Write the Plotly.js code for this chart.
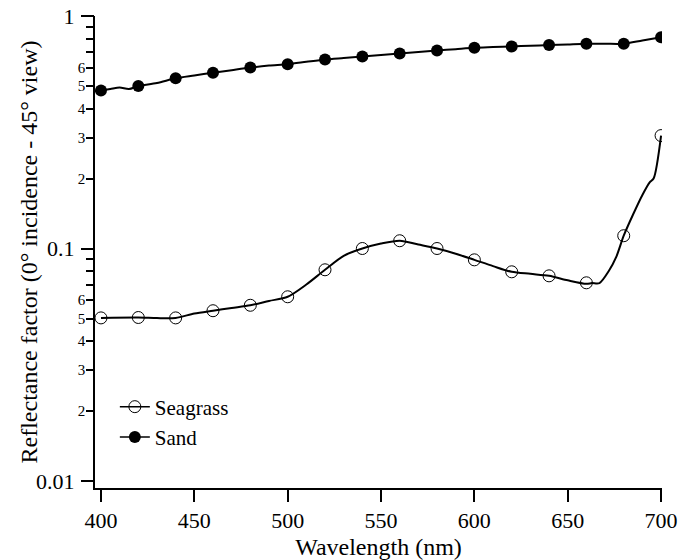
<!DOCTYPE html>
<html>
<head>
<meta charset="utf-8">
<script src="https://cdn.plot.ly/plotly-3.0.1.min.js"></script>
</head>
<body style="margin:0">
<div id="chart"></div>
<script>
// Marker points (every 20 nm)
const wavelength = [400,420,440,460,480,500,520,540,560,580,600,620,640,660,680,700];
const seagrass = [0.0503,0.0505,0.0503,0.054,0.057,0.062,0.081,0.100,0.108,0.100,0.0894,0.0794,0.0763,0.0712,0.1135,0.306];
const sand = [0.478,0.50,0.54,0.57,0.60,0.62,0.65,0.67,0.69,0.71,0.73,0.74,0.75,0.76,0.76,0.81];

// Continuous curves (finer steps)
const seagrassLineX = [400,420,430,440,450,460,470,480,490,500,510,520,530,540,550,560,570,580,590,600,610,620,630,640,650,660,663,667,672,676,680,685,690,694,696,700];
const seagrassLineY = [0.0503,0.0505,0.0502,0.0503,0.0525,0.054,0.0555,0.057,0.0595,0.062,0.070,0.081,0.093,0.100,0.105,0.108,0.104,0.100,0.095,0.0894,0.084,0.0794,0.0778,0.0763,0.073,0.0705,0.071,0.071,0.080,0.092,0.1135,0.140,0.170,0.193,0.200,0.306];
const sandLineX = [400,405,410,415,420,430,440,450,460,470,480,490,500,510,520,530,540,550,560,570,580,590,600,610,620,630,640,650,660,670,680,690,700];
const sandLineY = [0.478,0.485,0.492,0.485,0.50,0.515,0.54,0.555,0.57,0.585,0.60,0.612,0.62,0.635,0.65,0.66,0.67,0.68,0.69,0.70,0.71,0.72,0.73,0.735,0.74,0.745,0.75,0.755,0.76,0.76,0.76,0.785,0.81];

// Tick labels
const yMinorVals = [0.02,0.03,0.04,0.05,0.06,0.07,0.08,0.09,0.2,0.3,0.4,0.5,0.6,0.7,0.8,0.9];
const yMinorText = ['2','3','4','5','6','','','','2','3','4','5','6','','',''];
const yMajorVals = [0.01,0.1,1];
const yMajorText = ['0.01','0.1','1'];
const xTickVals = [400,450,500,550,600,650,700];
const seriesNames = ['Seagrass','Sand'];

const traces = [
  {x: seagrassLineX, y: seagrassLineY, mode: 'lines', line: {color: '#000', width: 2, shape: 'spline', smoothing: 0.8}, showlegend: false},
  {x: sandLineX, y: sandLineY, mode: 'lines', line: {color: '#000', width: 2, shape: 'spline', smoothing: 0.8}, showlegend: false},
  {x: wavelength, y: seagrass, mode: 'markers', showlegend: false,
   marker: {symbol: 'circle-open', size: 12, color: '#000', line: {width: 1}}},
  {x: wavelength, y: sand, mode: 'markers', showlegend: false,
   marker: {symbol: 'circle', size: 12, color: '#000'}},
  {x: [null], y: [null], name: seriesNames[0], mode: 'lines+markers', line: {color: '#000', width: 1.5},
   marker: {symbol: 'circle-open', size: 12, color: '#000', line: {width: 1}}},
  {x: [null], y: [null], name: seriesNames[1], mode: 'lines+markers', line: {color: '#000', width: 1.5},
   marker: {symbol: 'circle', size: 12, color: '#000'}},
  {x: [null], y: [null], yaxis: 'y2', mode: 'markers', showlegend: false}
];

const layout = {
  width: 682, height: 560,
  margin: {l: 95, r: 20, t: 16, b: 72},
  font: {family: 'Liberation Serif', size: 21},
  showlegend: true,
  legend: {x: 0.035, y: 0.215, xanchor: 'left', yanchor: 'top', bgcolor: 'rgba(0,0,0,0)',
           font: {family: 'Liberation Serif', size: 21, color: '#000'}, tracegroupgap: 0, itemwidth: 30},
  xaxis: {
    range: [396.8, 700.5], tickvals: xTickVals,
    ticks: 'outside', ticklen: 12, tickwidth: 1.5, tickcolor: '#000',
    showline: true, linecolor: '#000', linewidth: 1.5, showgrid: false, zeroline: false,
    tickfont: {family: 'Liberation Serif', size: 22, color: '#000'},
    title: {text: 'Wavelength (nm)', font: {family: 'Liberation Serif', size: 24, color: '#000'}}
  },
  yaxis: {
    type: 'log', range: [-2.03, 0.0], tickvals: yMinorVals, ticktext: yMinorText,
    ticks: 'outside', ticklen: 7, tickwidth: 1.5, tickcolor: '#000',
    showline: true, linecolor: '#000', linewidth: 1.5, showgrid: false, zeroline: false,
    tickfont: {family: 'Liberation Serif', size: 15, color: '#000'}, ticklabelstandoff: -2
  },
  yaxis2: {
    type: 'log', range: [-2.03, 0.0], overlaying: 'y', side: 'left',
    tickvals: yMajorVals, ticktext: yMajorText,
    ticks: 'outside', ticklen: 13, tickwidth: 1.5, tickcolor: '#000',
    showline: false, showgrid: false, zeroline: false,
    tickfont: {family: 'Liberation Serif', size: 22, color: '#000'}, ticklabelstandoff: 2,
    title: {text: 'Reflectance factor (0° incidence - 45° view)', font: {family: 'Liberation Serif', size: 24, color: '#000'}}
  }
};

Plotly.newPlot('chart', traces, layout, {displayModeBar: false});
</script>
</body>
</html>
